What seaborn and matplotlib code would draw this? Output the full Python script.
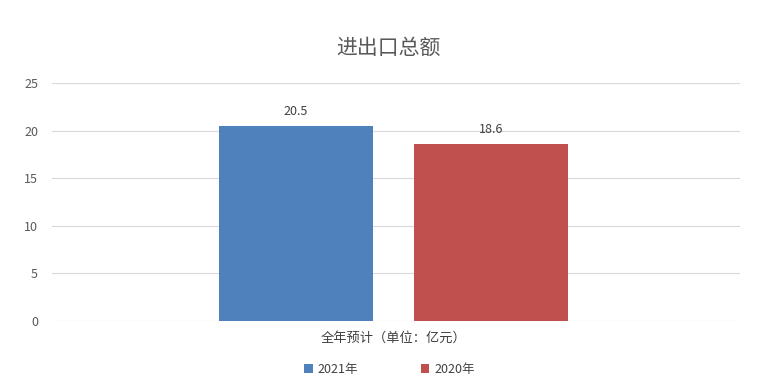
import matplotlib
matplotlib.use("Agg")
import matplotlib.pyplot as plt
import seaborn as sns
import pandas as pd

categories = ["全年预计（单位：亿元）"]
series = ["2021年", "2020年"]
values_2021 = [20.5]
values_2020 = [18.6]
colors = ["#4F81BD", "#C0504D"]

df = pd.DataFrame({
    "cat": categories * 2,
    "series": [series[0]] * len(categories) + [series[1]] * len(categories),
    "value": values_2021 + values_2020,
})

sns.set_theme(style="white")
plt.rcParams["font.family"] = ["Noto Sans CJK SC", "DejaVu Sans"]

fig = plt.figure(figsize=(7.76, 3.92), dpi=100)
ax = fig.add_axes([0.067, 0.181, 0.887, 0.607])

sns.barplot(data=df, x="cat", y="value", hue="series", palette=colors,
            width=0.567, gap=0.21, ax=ax, saturation=1, errorbar=None, zorder=3,
            linewidth=0)

for c in ax.containers:
    ax.bar_label(c, fmt="%.1f", padding=6, fontsize=9, color="#404040")

ax.set_ylim(0, 25)
ax.set_yticks([0, 5, 10, 15, 20, 25])
ax.set_xlim(-0.4963, 0.5037)
ax.grid(axis="y", color="#D9D9D9", linewidth=0.8, zorder=0)
for s in ax.spines.values():
    s.set_visible(False)
ax.tick_params(axis="y", length=0, labelsize=9, labelcolor="#595959", pad=10)
ax.tick_params(axis="x", length=0, labelsize=9.5, labelcolor="#404040", pad=8)
ax.set_xlabel("")
ax.set_ylabel("")

fig.suptitle("进出口总额", x=0.5, y=0.905, fontsize=15, color="#595959")

leg = ax.legend(loc="upper center", bbox_to_anchor=(0.49, -0.13), ncol=2,
                frameon=False, fontsize=9, handlelength=0.7, handleheight=0.7,
                columnspacing=5, handletextpad=0.4)
for t in leg.get_texts():
    t.set_color("#404040")

fig.savefig("out.png", dpi=100, facecolor="white")
